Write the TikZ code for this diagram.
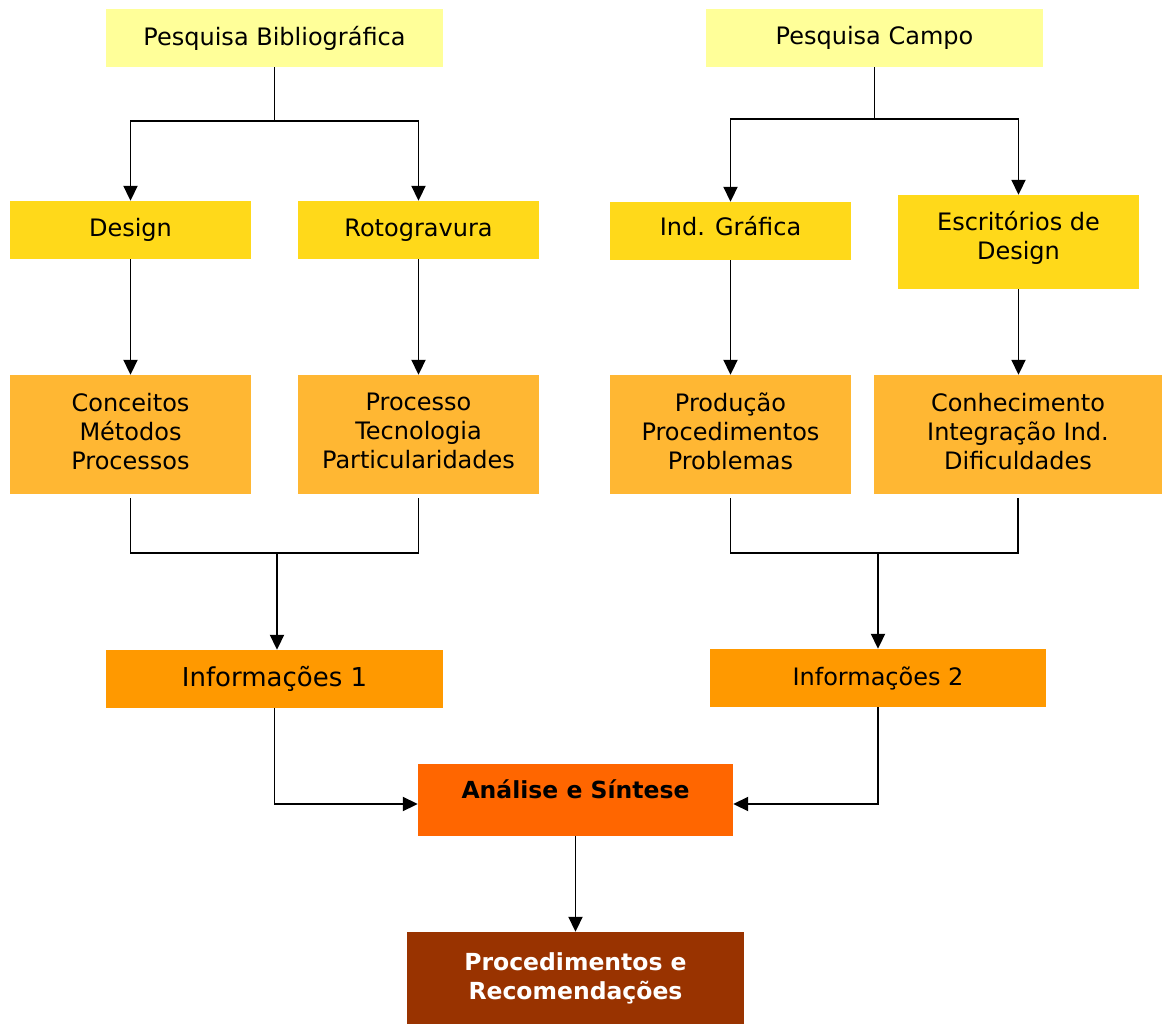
\documentclass[tikz,border=0pt]{standalone}
\usepackage{fontspec}
\setmainfont{DejaVu Sans}
\usetikzlibrary{arrows.meta,positioning}

\definecolor{paleyellow}{HTML}{FFFF99}
\definecolor{gold}{HTML}{FFD91A}
\definecolor{lightorange}{HTML}{FFB733}
\definecolor{midorange}{HTML}{FF9900}
\definecolor{deeporange}{HTML}{FF6600}
\definecolor{brown}{HTML}{993300}

\tikzset{
  box/.style={rectangle, inner sep=0pt, align=center, draw=none,
    font=\fontsize{24}{29}\selectfont},
  wide/.style={box, minimum width=337pt, minimum height=58pt},
  narrow/.style={box, minimum width=241pt, minimum height=58pt},
  tall/.style={box, minimum width=241pt, minimum height=119pt},
  link/.style={line width=1.9pt, black},
  arr/.style={link, -{Triangle[width=14pt,length=15pt]}},
}

\begin{document}
\begin{tikzpicture}[x=1pt, y=-1pt]
  \useasboundingbox (0,0) rectangle (1162,1025);

  % sources
  \node[wide, fill=paleyellow] (pb) at (274.5,38) {Pesquisa Bibliográfica};
  \node[wide, fill=paleyellow] (pc) at (874.5,38) {Pesquisa Campo};

  % themes
  \node[narrow, fill=gold] (design) at (130.5,230) {Design};
  \node[narrow, fill=gold] (roto)   at (418.5,230) {Rotogravura};
  \node[narrow, fill=gold, text height=17pt, text depth=9pt] (ind) at (730.5,231) {Ind. Gráfica};
  \node[box, fill=gold, minimum width=241pt, minimum height=94pt] (escr) at (1018.5,242) {Escritórios de\\Design\\[-16pt]};

  % topics
  \node[tall, fill=lightorange] (conc) at (130.5,434.5) {Conceitos\\Métodos\\Processos\\[-22pt]};
  \node[tall, fill=lightorange] (proc) at (418.5,434.5) {Processo\\Tecnologia\\Particularidades\\[-22pt]};
  \node[tall, fill=lightorange] (prod) at (730.5,434.5) {Produção\\Procedimentos\\Problemas\\[-22pt]};
  \node[box, fill=lightorange, minimum width=288pt, minimum height=119pt] (conh) at (1018,434.5) {Conhecimento\\Integração Ind.\\Dificuldades\\[-22pt]};

  % information
  \node[wide, fill=midorange, font=\fontsize{26}{30}\selectfont] (info1) at (274.5,679) {Informações 1};
  \node[box, fill=midorange, minimum width=336pt, minimum height=58pt] (info2) at (878,678) {Informações 2};

  % synthesis and outcome
  \node[box, fill=deeporange, minimum width=315pt, minimum height=72pt,
        font=\fontsize{23.5}{29}\bfseries, text height=15pt, text depth=19pt] (anal) at (575.5,800) {Análise e Síntese};
  \node[box, fill=brown, text=white, minimum width=337pt, minimum height=92pt,
        font=\fontsize{23.5}{29}\bfseries] (rec) at (575.5,978) {Procedimentos e\\Recomendações};

  % branching from the sources
  \draw[link] (pb.south) -- ++(0,54) coordinate (pbj);
  \draw[arr] (pbj) -| (design.north);
  \draw[arr] (pbj) -| (roto.north);
  \draw[link] (pc.south) -- ++(0,52) coordinate (pcj);
  \draw[arr] (pcj) -| (ind.north);
  \draw[arr] (pcj) -| (escr.north);

  % themes to topics
  \draw[arr] (design.south) -- (conc.north);
  \draw[arr] (roto.south) -- (proc.north);
  \draw[arr] (ind.south) -- (prod.north);
  \draw[arr] (escr.south) -- (escr.south |- conh.north);

  % merging into information
  \coordinate (lj) at (277,553);
  \draw[link, shorten <=4pt] (conc.south) |- (lj);
  \draw[link, shorten <=4pt] (proc.south) |- (lj);
  \draw[arr] (lj) -- (lj |- info1.north);
  \coordinate (rj) at (878,553);
  \draw[link, shorten <=4pt] (prod.south) |- (rj);
  \draw[link, shorten <=4pt] (conh.south) |- (rj);
  \draw[arr] (rj) -- (rj |- info2.north);

  % into synthesis
  \draw[arr] (info1.south) |- ([yshift=-4pt]anal.west);
  \draw[arr] (info2.south) |- ([yshift=-4pt]anal.east);
  \draw[arr] (anal.south) -- (rec.north);
\end{tikzpicture}
\end{document}
